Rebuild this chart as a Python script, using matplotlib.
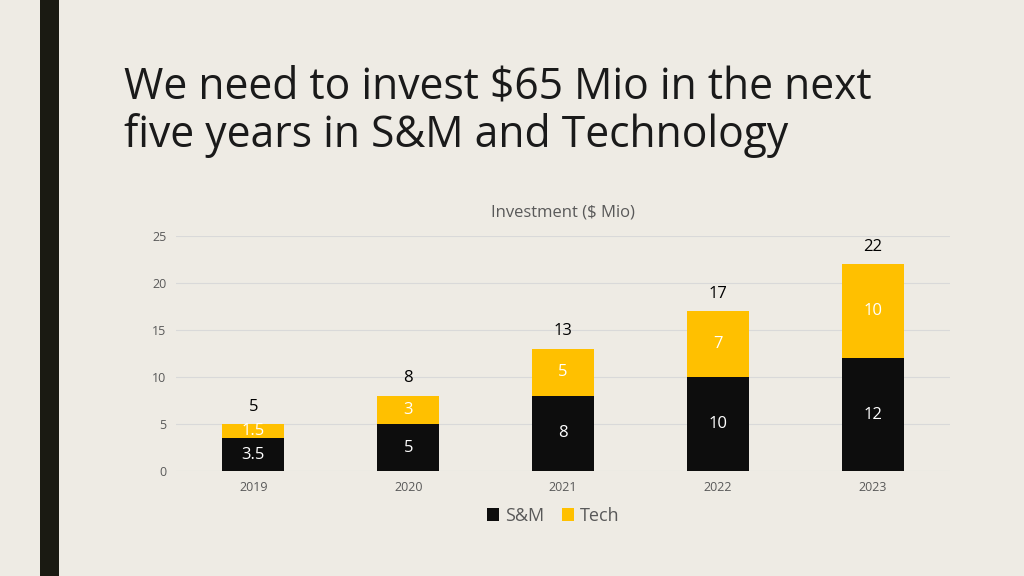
import matplotlib
matplotlib.use("Agg")
from matplotlib import pyplot as plt
from matplotlib.patches import Rectangle

# data
years = ["2019", "2020", "2021", "2022", "2023"]
sm = [3.5, 5, 8, 10, 12]
tech = [1.5, 3, 5, 7, 10]
totals = [5, 8, 13, 17, 22]

BG = "#EEEBE4"
DARK = "#0D0D0D"
YELLOW = "#FFC000"
GRAY = "#595959"

plt.rcParams['font.family'] = ['Open Sans', 'DejaVu Sans']

fig = plt.figure(figsize=(10.24, 5.76), dpi=100, facecolor=BG)

# dark vertical band on the left
fig.patches.append(Rectangle((40 / 1024, 0), 19 / 1024, 1, transform=fig.transFigure,
                             facecolor="#1A1A12", edgecolor="none"))

fig.text(124 / 1024, 1 - 87 / 576, "We need to invest $65 Mio in the next",
         fontsize=30.7, color="#1A1A1A", va="center", ha="left")
fig.text(124 / 1024, 1 - 136 / 576, "five years in S&M and Technology",
         fontsize=30.7, color="#1A1A1A", va="center", ha="left")

ax = fig.add_axes([176 / 1024, 1 - 471 / 576, 774 / 1024, 235 / 576])
ax.set_facecolor(BG)

x = range(len(years))
b1 = ax.bar(x, sm, width=0.4, color=DARK, label="S&M", zorder=3)
b2 = ax.bar(x, tech, width=0.4, bottom=sm, color=YELLOW, label="Tech", zorder=3)

for i in x:
    ax.text(i, sm[i] / 2, f"{sm[i]:g}", ha="center", va="center",
            color="white", fontsize=12, zorder=4)
    ax.text(i, sm[i] + tech[i] / 2, f"{tech[i]:g}", ha="center", va="center",
            color="white", fontsize=12, zorder=4)
    ax.text(i, totals[i] + 1.0, f"{totals[i]:g}", ha="center", va="bottom",
            color="black", fontsize=12, zorder=4)

ax.set_xlim(-0.5, 4.5)
ax.set_ylim(0, 25)
ax.set_yticks([0, 5, 10, 15, 20, 25])
ax.set_xticks(list(x))
ax.set_xticklabels(years)
ax.tick_params(axis="both", length=0, labelsize=9, labelcolor=GRAY)
ax.tick_params(axis="y", pad=7)
ax.tick_params(axis="x", pad=7)
ax.grid(axis="y", color="#D9D9D9", linewidth=0.8, zorder=0)
for s in ax.spines.values():
    s.set_visible(False)

ax.set_title("Investment ($ Mio)", fontsize=12, color=GRAY, pad=14)

fig.legend(handles=[b1, b2], loc="center", bbox_to_anchor=(553 / 1024, 1 - 516 / 576),
           ncol=2, frameon=False, fontsize=13, handlelength=0.7, handleheight=0.7,
           handletextpad=0.3, columnspacing=1.0, labelcolor=GRAY)

fig.savefig("out.png", dpi=100, facecolor=BG)
